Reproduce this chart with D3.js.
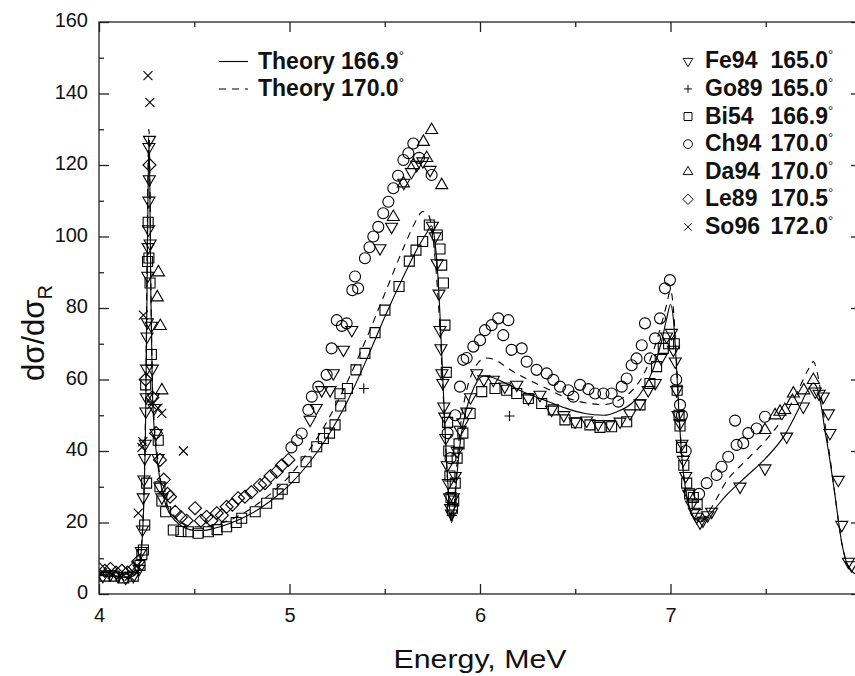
<!DOCTYPE html>
<html><head><meta charset="utf-8">
<script src="https://cdn.jsdelivr.net/npm/d3@7"></script>
<style>body{margin:0;background:#fff} svg{display:block;font-family:"Liberation Sans",Arial,sans-serif}</style>
</head><body><svg id="chart" width="855" height="676"></svg>
<script>
// ---------- data ----------
const xMajorTicks = [4, 5, 6, 7, 8];
const xMinorTicks = [4.5, 5.5, 6.5, 7.5];
const yMajorTicks = [0, 20, 40, 60, 80, 100, 120, 140, 160];
const yMinorTicks = [10, 30, 50, 70, 90, 110, 130, 150];

const theoryLabels = ["Theory 166.9", "Theory 170.0"];
const seriesNames = ["Fe94", "Go89", "Bi54", "Ch94", "Da94", "Le89", "So96"];
const seriesAngles = ["165.0", "165.0", "166.9", "170.0", "170.0", "170.5", "172.0"];

const theory1669 = [[4.00,5.2],[4.05,5.0],[4.10,4.8],[4.15,4.6],[4.18,5.0],[4.20,6.0],[4.215,9],[4.225,14],[4.235,25],[4.245,50],[4.252,85],[4.258,115],[4.262,126],[4.266,118],[4.272,85],[4.28,58],[4.29,46],[4.30,40],[4.32,32],[4.35,25],[4.40,20.5],[4.45,18.5],[4.50,17.8],[4.55,17.8],[4.60,18.3],[4.70,20],[4.80,22.5],[4.90,26],[5.00,30.5],[5.10,36.5],[5.20,44],[5.30,53.5],[5.40,65],[5.50,77.5],[5.60,89],[5.68,97.5],[5.72,101],[5.745,103],[5.76,100],[5.775,92],[5.79,78],[5.805,60],[5.82,42],[5.835,28],[5.85,20],[5.865,24],[5.88,34],[5.90,44],[5.93,52],[5.97,58],[6.02,61],[6.07,60.5],[6.15,58.5],[6.25,56],[6.35,54],[6.45,52],[6.55,50.5],[6.65,50],[6.72,51],[6.80,53.5],[6.86,57.5],[6.91,63],[6.95,70],[6.98,77],[7.00,81],[7.015,77],[7.03,65],[7.045,50],[7.06,38],[7.08,29],[7.10,24],[7.13,21],[7.16,20.2],[7.20,22],[7.30,28],[7.40,33],[7.50,38],[7.60,44.5],[7.67,51.5],[7.72,57],[7.75,59],[7.77,57.5],[7.79,53],[7.81,46],[7.835,38],[7.86,29],[7.88,21],[7.90,14],[7.92,9.5],[7.95,6.5],[8.00,5]];

const theory1700 = [[4.00,5.5],[4.05,5.3],[4.10,5.0],[4.15,4.8],[4.18,5.2],[4.20,6.3],[4.215,9.5],[4.225,15],[4.235,27],[4.245,55],[4.252,92],[4.258,122],[4.262,130],[4.266,121],[4.272,88],[4.28,60],[4.29,48],[4.30,42],[4.32,33],[4.35,26],[4.40,21.5],[4.45,19.5],[4.50,18.8],[4.55,18.8],[4.60,19.3],[4.70,21],[4.80,24],[4.90,28],[5.00,33],[5.10,40],[5.20,48.5],[5.30,59],[5.40,71],[5.50,84],[5.60,97],[5.66,104],[5.70,107],[5.73,106],[5.75,101],[5.77,90],[5.79,74],[5.805,58],[5.82,41],[5.835,27],[5.85,20],[5.865,25],[5.88,37],[5.90,48],[5.93,57],[5.97,63],[6.03,66],[6.08,65.5],[6.15,63],[6.25,60],[6.35,57.5],[6.45,55],[6.55,53.5],[6.65,53],[6.72,54],[6.80,57],[6.86,61.5],[6.91,68],[6.95,75],[6.98,81],[7.00,85],[7.015,80],[7.03,67],[7.045,51],[7.06,38],[7.08,29],[7.10,24],[7.13,21],[7.16,20.5],[7.20,23],[7.30,32],[7.40,37.5],[7.50,43],[7.60,50],[7.67,57],[7.72,62.5],[7.75,65],[7.77,62],[7.79,56],[7.81,48],[7.835,39],[7.86,29],[7.88,21],[7.90,14],[7.92,9.5],[7.95,6.5],[8.00,5]];

const fe94 = [[4.02,5],[4.06,5.5],[4.10,5],[4.14,4.5],[4.18,5],[4.21,7],[4.222,12],[4.228,18],[4.232,27],[4.236,32],[4.24,38],[4.243,42],[4.246,51],[4.248,55],[4.25,63],[4.252,72],[4.254,76],[4.256,89],[4.258,97],[4.26,102],[4.262,110],[4.264,116],[4.262,125],[4.265,127],[4.268,98],[4.275,75],[4.28,63],[4.285,55],[4.29,52],[4.30,45],[4.31,38],[4.32,30],[4.33,27],
 [5.108,48.7],[5.14,52],[5.169,57],[5.213,57],[5.23,61.7],[5.283,68.3],[5.327,73.8],[5.475,96.7],[5.536,102.7],[5.6,115],[5.64,118],[5.668,120],[5.70,121],[5.738,118.6],
 [5.75,103],[5.765,100],[5.775,92.5],[5.785,84],[5.79,73.8],[5.795,68.7],[5.80,61.7],[5.805,59],[5.81,52.4],[5.815,49.6],[5.82,43.6],[5.828,36],[5.834,31],[5.84,27],[5.846,24],[5.85,22.5],
 [5.86,27],[5.87,33],[5.88,40],[5.895,45.9],[5.91,48],[5.93,51],[5.95,55],[5.983,61.7],[6.02,60],[6.07,59.9],[6.13,58],[6.193,58.5],[6.254,54.7],[6.315,55.7],[6.376,51.5],[6.44,50],[6.499,48.2],[6.56,48.5],[6.62,47.5],[6.68,47.5],[6.735,48.2],[6.787,50.5],[6.84,53.3],[6.883,57],[6.92,59],[6.95,66],[6.98,72],[7.005,73],[7.015,68.3],[7.025,65],[7.032,57],[7.04,50],[7.05,47.7],[7.06,42],[7.067,37.5],[7.08,33],[7.095,28],[7.11,25],[7.125,23],[7.137,21.6],[7.155,20],[7.17,20.5],[7.195,22],[7.216,23],[7.365,30],[7.496,35.1],[7.61,44],[7.697,52.4],[7.76,56.6],[7.78,56],[7.802,55.2],[7.829,50.5],[7.837,45],[7.881,31.9],[7.899,19.3],[7.934,9],[7.95,8]];

const go89 = [[5.39,57.5],[5.852,22],[6.155,49.8]];

const bi54 = [[4.03,5],[4.08,5],[4.13,4.5],[4.18,5],[4.215,8],[4.225,11],[4.233,12.3],[4.24,19.3],[4.25,31],[4.245,58.5],[4.255,93],[4.258,104],[4.262,94],[4.268,87],[4.275,67],[4.311,43],[4.32,30],[4.33,26],[4.35,23],[4.39,17.9],[4.43,17.5],[4.469,17.4],[4.52,17],[4.574,17.4],[4.62,18],[4.67,18.8],[4.72,20],[4.749,21.2],[4.82,23],[4.88,25.4],[4.94,28],[4.962,29.3],[5.024,32.6],[5.087,37],[5.143,41.2],[5.178,43.5],[5.21,45],[5.239,47.3],[5.265,56],[5.269,52.6],[5.304,57.5],[5.349,62.7],[5.396,67.3],[5.449,73.1],[5.501,79.4],[5.575,86],[5.629,93.1],[5.664,96.2],[5.699,98.6],[5.734,103.2],[5.776,100.4],[5.79,96.5],[5.799,92],[5.808,87],[5.816,75.2],[5.823,62],[5.83,48],[5.836,40],[5.842,33],[5.848,27],[5.855,24],[5.862,26],[5.87,31],[5.88,38],[5.89,42],[5.91,45],[5.948,50.5],[6.009,56.6],[6.079,57.5],[6.14,57],[6.193,56.1],[6.254,54.7],[6.324,53.3],[6.385,51.5],[6.446,48.7],[6.507,47.9],[6.577,47.3],[6.63,46.6],[6.691,46.8],[6.77,48.2],[6.84,52.9],[6.892,58.9],[6.927,63.6],[6.962,68.7],[6.99,70],[7.02,70],[7.035,57],[7.045,50],[7.05,47],[7.058,41],[7.07,36],[7.085,31],[7.1,28],[7.12,27],[7.14,25]];

const ch94 = [[5.01,41],[5.04,43],[5.064,44.9],[5.099,51.5],[5.117,55.2],[5.151,58],[5.195,61.3],[5.221,68.7],[5.248,76.6],[5.275,75],[5.300,75.7],[5.33,85],[5.344,88.8],[5.36,85.5],[5.396,93.9],[5.42,97],[5.44,100],[5.466,102.7],[5.492,106.5],[5.519,109.7],[5.545,113.5],[5.57,117],[5.598,121.4],[5.624,123.3],[5.65,126],[5.68,122],[5.746,117.2],
 [5.83,45],[5.845,38],[5.87,50],[5.895,58],[5.912,65.5],[5.93,66],[5.965,69.2],[6.0,71],[6.026,73.8],[6.061,75.2],[6.096,77.1],[6.122,72.4],[6.149,76.6],[6.166,68.3],[6.219,68.7],[6.245,65],[6.297,62.7],[6.35,61.7],[6.385,59.9],[6.42,58],[6.464,57],[6.49,55.2],[6.525,58.5],[6.569,57.3],[6.604,56.1],[6.648,56.1],[6.691,56.1],[6.726,53.8],[6.744,58],[6.77,60.3],[6.796,64],[6.822,65.9],[6.849,69.6],[6.866,75.7],[6.892,65.9],[6.919,71.5],[6.945,77.1],[6.971,85.5],[6.997,87.8],[7.03,60],[7.05,52.9],[7.06,50],[7.08,40],[7.15,28],[7.19,31],[7.242,33.3],[7.268,35.6],[7.303,38.4],[7.339,48.5],[7.347,41.7],[7.382,42.2],[7.408,45],[7.452,46.3],[7.496,49.6]];

const da94 = [[4.312,90],[4.306,83],[4.322,75],[4.33,57],[5.545,105.5],[5.598,114.9],[5.65,120],[5.703,126.5],[5.72,122],[5.746,129.8],[5.799,114.4],[7.496,45.9],[7.549,50],[7.575,51],[7.6,51.5],[7.64,54],[7.645,56.1],[7.70,57],[7.75,59.9]];

const le89 = [[4.00,7],[4.03,6.5],[4.06,7],[4.09,6],[4.12,6.5],[4.15,6],[4.18,7],[4.205,9],[4.245,60],[4.265,120],[4.28,55],[4.30,45],[4.32,37.5],[4.34,32],[4.36,28],[4.373,27.2],[4.40,23],[4.43,21.5],[4.46,20.5],[4.504,24],[4.535,20.5],[4.565,21.6],[4.59,20.5],[4.618,22.6],[4.645,22],[4.67,24.4],[4.70,25],[4.73,26.8],[4.766,27.2],[4.80,28.5],[4.845,30.5],[4.871,31],[4.90,33],[4.933,34.2],[4.96,36],[4.994,37.5]];

const so96 = [[4.02,6],[4.07,5.5],[4.11,5],[4.16,5],[4.20,8],[4.206,22.6],[4.225,41],[4.23,42.6],[4.233,78],[4.257,145],[4.267,137.5],[4.275,53],[4.31,52],[4.329,50.5],[4.443,40]];

// ---------- chart ----------
const svg = d3.select("#chart");
const L = 99, R = 861, T = 22, B = 594;
const x = d3.scaleLinear().domain([4, 8]).range([L, R]);
const y = d3.scaleLinear().domain([0, 160]).range([B, T]);
const ink = "#000";

const markers = {
  down: "M-6,-3.6L6,-3.6L0,6.8Z",
  up: "M-6,3.6L6,3.6L0,-6.8Z",
  square: "M-5,-5H5V5H-5Z",
  circle: "M5.5,0A5.5,5.5 0 1,1 -5.5,0A5.5,5.5 0 1,1 5.5,0Z",
  diamond: "M0,-6.5L6.5,0L0,6.5L-6.5,0Z",
  cross: "M-4.5,-4.5L4.5,4.5M-4.5,4.5L4.5,-4.5",
  plus: "M-5,0H5M0,-5V5"
};
const series = [
  {data: fe94, m: "down"}, {data: go89, m: "plus"}, {data: bi54, m: "square"},
  {data: ch94, m: "circle"}, {data: da94, m: "up"}, {data: le89, m: "diamond"}, {data: so96, m: "cross"}
];

svg.append("defs").append("clipPath").attr("id", "clip")
  .append("rect").attr("x", L).attr("y", T).attr("width", R - L).attr("height", B - T);

const plot = svg.append("g").attr("clip-path", "url(#clip)");

// theory lines
const line = d3.line().x(d => x(d[0])).y(d => y(d[1])).curve(d3.curveMonotoneX);
plot.append("path").datum(theory1669).attr("d", line)
  .attr("fill", "none").attr("stroke", ink).attr("stroke-width", 1.1);
plot.append("path").datum(theory1700).attr("d", line)
  .attr("fill", "none").attr("stroke", ink).attr("stroke-width", 1.1).attr("stroke-dasharray", "7,6");

// markers
series.forEach(s => {
  plot.append("g").selectAll("path").data(s.data).join("path")
    .attr("transform", d => `translate(${x(d[0])},${y(d[1])})`)
    .attr("d", markers[s.m]).attr("fill", "none").attr("stroke", ink).attr("stroke-width", 1.1);
});

// axes
const axG = svg.append("g");
function styleAxis(g) {
  g.select(".domain").remove();
  g.selectAll("line").attr("stroke", "#222").attr("stroke-width", 1.3);
  g.selectAll("text").attr("fill", "#111").attr("font-size", 20).attr("font-family", '"Liberation Sans",Arial,sans-serif');
}
axG.append("g").attr("transform", `translate(0,${B})`)
  .call(d3.axisBottom(x).tickValues(xMajorTicks.filter(v => v < 8)).tickSize(-10).tickPadding(14).tickFormat(d3.format("d"))).call(styleAxis);
axG.append("g").attr("transform", `translate(0,${B})`)
  .call(d3.axisBottom(x).tickValues(xMinorTicks).tickSize(-5).tickFormat("")).call(styleAxis);
axG.append("g").attr("transform", `translate(0,${T})`)
  .call(d3.axisTop(x).tickValues(xMajorTicks).tickSize(-10).tickFormat("")).call(styleAxis);
axG.append("g").attr("transform", `translate(0,${T})`)
  .call(d3.axisTop(x).tickValues(xMinorTicks).tickSize(-5).tickFormat("")).call(styleAxis);
const yl = axG.append("g").attr("transform", `translate(${L},0)`)
  .call(d3.axisLeft(y).tickValues(yMajorTicks).tickSize(-10).tickPadding(11).tickFormat(d3.format("d"))).call(styleAxis);
yl.selectAll("text").attr("dy", "0.24em");
axG.append("g").attr("transform", `translate(${L},0)`)
  .call(d3.axisLeft(y).tickValues(yMinorTicks).tickSize(-5).tickFormat("")).call(styleAxis);
axG.append("g").attr("transform", `translate(${R},0)`)
  .call(d3.axisRight(y).tickValues(yMajorTicks).tickSize(-10).tickFormat("")).call(styleAxis);
axG.append("g").attr("transform", `translate(${R},0)`)
  .call(d3.axisRight(y).tickValues(yMinorTicks).tickSize(-5).tickFormat("")).call(styleAxis);

// frame
svg.append("rect").attr("x", L).attr("y", T).attr("width", R - L).attr("height", B - T)
  .attr("fill", "none").attr("stroke", "#222").attr("stroke-width", 1.3);

// axis titles
svg.append("text").attr("x", (L + R) / 2).attr("y", 668).attr("text-anchor", "middle")
  .attr("font-size", 26).attr("fill", "#111").attr("textLength", 173).attr("lengthAdjust", "spacingAndGlyphs")
  .text("Energy, MeV");
const yt = svg.append("text").attr("transform", "translate(44,333) rotate(-90)").attr("text-anchor", "middle")
  .attr("font-size", 31).attr("fill", "#111");
yt.append("tspan").text("dσ/dσ");
yt.append("tspan").attr("font-size", 20).attr("dy", 8).text("R");

// left legend
const legL = svg.append("g");
theoryLabels.forEach((t, i) => {
  const by = 68.5 + i * 27.5;
  legL.append("line").attr("x1", 219).attr("x2", 248).attr("y1", by - 7).attr("y2", by - 7)
    .attr("stroke", ink).attr("stroke-width", 1.1).attr("stroke-dasharray", i ? "7,6" : null);
  const tx = legL.append("text").attr("x", 258).attr("y", by).attr("font-size", 23).attr("font-weight", "bold").attr("fill", "#111");
  tx.append("tspan").text(t);
  tx.append("tspan").attr("font-size", 13).attr("font-weight", "normal").attr("dy", -9).text("°");
});

// right legend
const legR = svg.append("g");
seriesNames.forEach((n, i) => {
  const by = 68.3 + i * 27.6;
  legR.append("path").attr("transform", `translate(688,${by - 7}) scale(0.8)`)
    .attr("d", markers[series[i].m]).attr("fill", "none").attr("stroke", ink).attr("stroke-width", 1.2);
  legR.append("text").attr("x", 705).attr("y", by).attr("font-size", 23).attr("font-weight", "bold").attr("fill", "#111").text(n);
  legR.append("text").attr("x", 828).attr("y", by).attr("font-size", 23).attr("font-weight", "bold")
    .attr("fill", "#111").attr("text-anchor", "end").text(seriesAngles[i]);
  legR.append("text").attr("x", 828).attr("y", by - 9).attr("font-size", 13).attr("fill", "#111").text("°");
});
</script></body></html>
